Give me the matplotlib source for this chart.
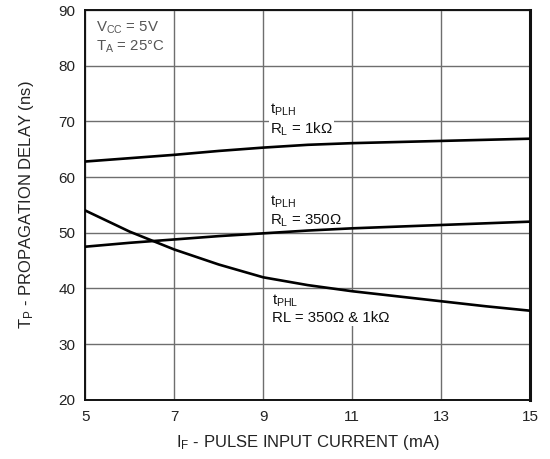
import matplotlib.pyplot as plt

# --- data ---
current_ma = [5, 6, 7, 8, 9, 10, 11, 12, 13, 14, 15]
tplh_1k = [62.8, 63.4, 64.0, 64.7, 65.3, 65.8, 66.1, 66.3, 66.5, 66.7, 66.9]
tplh_350 = [47.5, 48.2, 48.8, 49.4, 49.9, 50.4, 50.8, 51.1, 51.4, 51.7, 52.0]
tphl = [54.0, 50.2, 47.0, 44.3, 42.0, 40.6, 39.5, 38.6, 37.7, 36.8, 36.0]

x_ticks = [5, 7, 9, 11, 13, 15]
y_ticks = [20, 30, 40, 50, 60, 70, 80, 90]

plt.rcParams['font.family'] = ['Liberation Sans', 'DejaVu Sans']

fig = plt.figure(figsize=(5.5, 4.59), dpi=100)
ax = fig.add_axes([0.155, 0.129, 0.809, 0.849])

# curves drawn over the label boxes, labels over the grid
for series in (tplh_1k, tplh_350, tphl):
    ax.plot(current_ma, series, color='black', lw=1.9, zorder=5)

ax.set_xlim(5, 15)
ax.set_ylim(20, 90)
ax.set_xticks(x_ticks)
ax.set_yticks(y_ticks)
ax.grid(True, color='#6e6e6e', lw=1.0)
ax.tick_params(length=0, labelsize=11, labelcolor='#222222', pad=7)
for s in ax.spines.values():
    s.set_color('#111111')
    s.set_linewidth(1.4)
ax.spines['right'].set_linewidth(2.2)

label_style = dict(fontsize=10.8, color='#111111', va='top', ha='left', zorder=4,
                   bbox=dict(facecolor='white', edgecolor='none', pad=1.0))
ax.text(9.15, 73.5, '$\\mathregular{t_{PLH}}$\n$\\mathregular{R_L}$ = 1k\u03a9', **label_style)
ax.text(9.15, 57.0, '$\\mathregular{t_{PLH}}$\n$\\mathregular{R_L}$ = 350\u03a9', **label_style)
ax.text(9.2, 39.3, '$\\mathregular{t_{PHL}}$\nRL = 350\u03a9 & 1k\u03a9', **label_style)
ax.text(5.25, 88.3, '$\\mathregular{V_{CC}}$ = 5V\n$\\mathregular{T_A}$ = 25\u00b0C',
        fontsize=10.8, color='#555555', va='top', ha='left')

ax.set_xlabel('$\\mathregular{I_F}$ - PULSE INPUT CURRENT (mA)', fontsize=12,
              color='#222222', labelpad=7)
ax.set_ylabel('$\\mathregular{T_P}$ - PROPAGATION DELAY (ns)', fontsize=12,
              color='#222222', labelpad=16)

fig.savefig('out.png', dpi=100)
